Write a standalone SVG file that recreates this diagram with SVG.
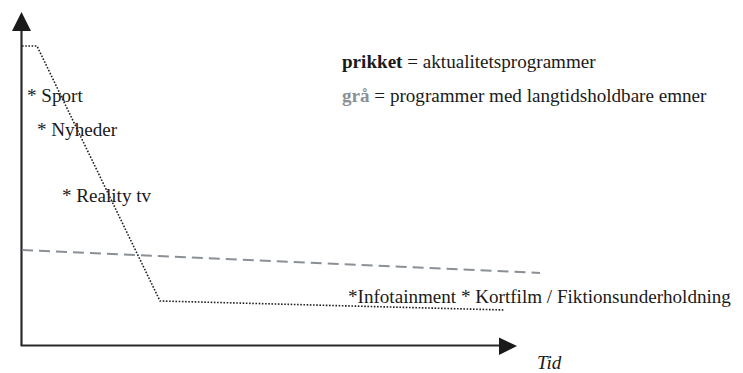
<svg xmlns="http://www.w3.org/2000/svg" width="743" height="373" viewBox="0 0 743 373">
<style>
text{font-family:"Liberation Serif","Times New Roman",serif;fill:#1a1a1a;font-size:19.1px}
.axis{stroke:#2a2a2a;stroke-width:2.2;fill:none}
.dot{stroke:#222;stroke-width:1.6;stroke-dasharray:1.6 1.6;fill:none}
.dash{stroke:#8a9096;stroke-width:2;stroke-dasharray:11 6;fill:none}
</style>
<rect width="743" height="373" fill="#fff"/>
<g id="axes">
<line class="axis" x1="21.5" y1="345" x2="21.5" y2="28"/>
<polygon points="21.5,12 12,31 31,31" fill="#1a1a1a"/>
<line class="axis" x1="20.5" y1="345.5" x2="500" y2="345.5"/>
<polygon points="517,346 499,337.5 499,355" fill="#1a1a1a"/>
</g>
<g id="connectors">
<polyline class="dot" points="22,46 37,46 160,301 505,310"/>
<line class="dash" x1="22" y1="250" x2="540" y2="273"/>
</g>
<g id="legend">
<text x="342" y="68"><tspan font-weight="bold">prikket</tspan> = aktualitetsprogrammer</text>
<text x="342" y="102"><tspan font-weight="bold" fill="#8a9096">grå</tspan> = programmer med langtidsholdbare emner</text>
</g>
<g id="labels">
<text x="27" y="102">* Sport</text>
<text x="37" y="136">*  Nyheder</text>
<text x="62" y="202">* Reality tv</text>
<text x="348" y="303">*Infotainment * Kortfilm / Fiktionsunderholdning</text>
<text x="537" y="369" font-style="italic" font-size="23px">Tid</text>
</g>
</svg>
